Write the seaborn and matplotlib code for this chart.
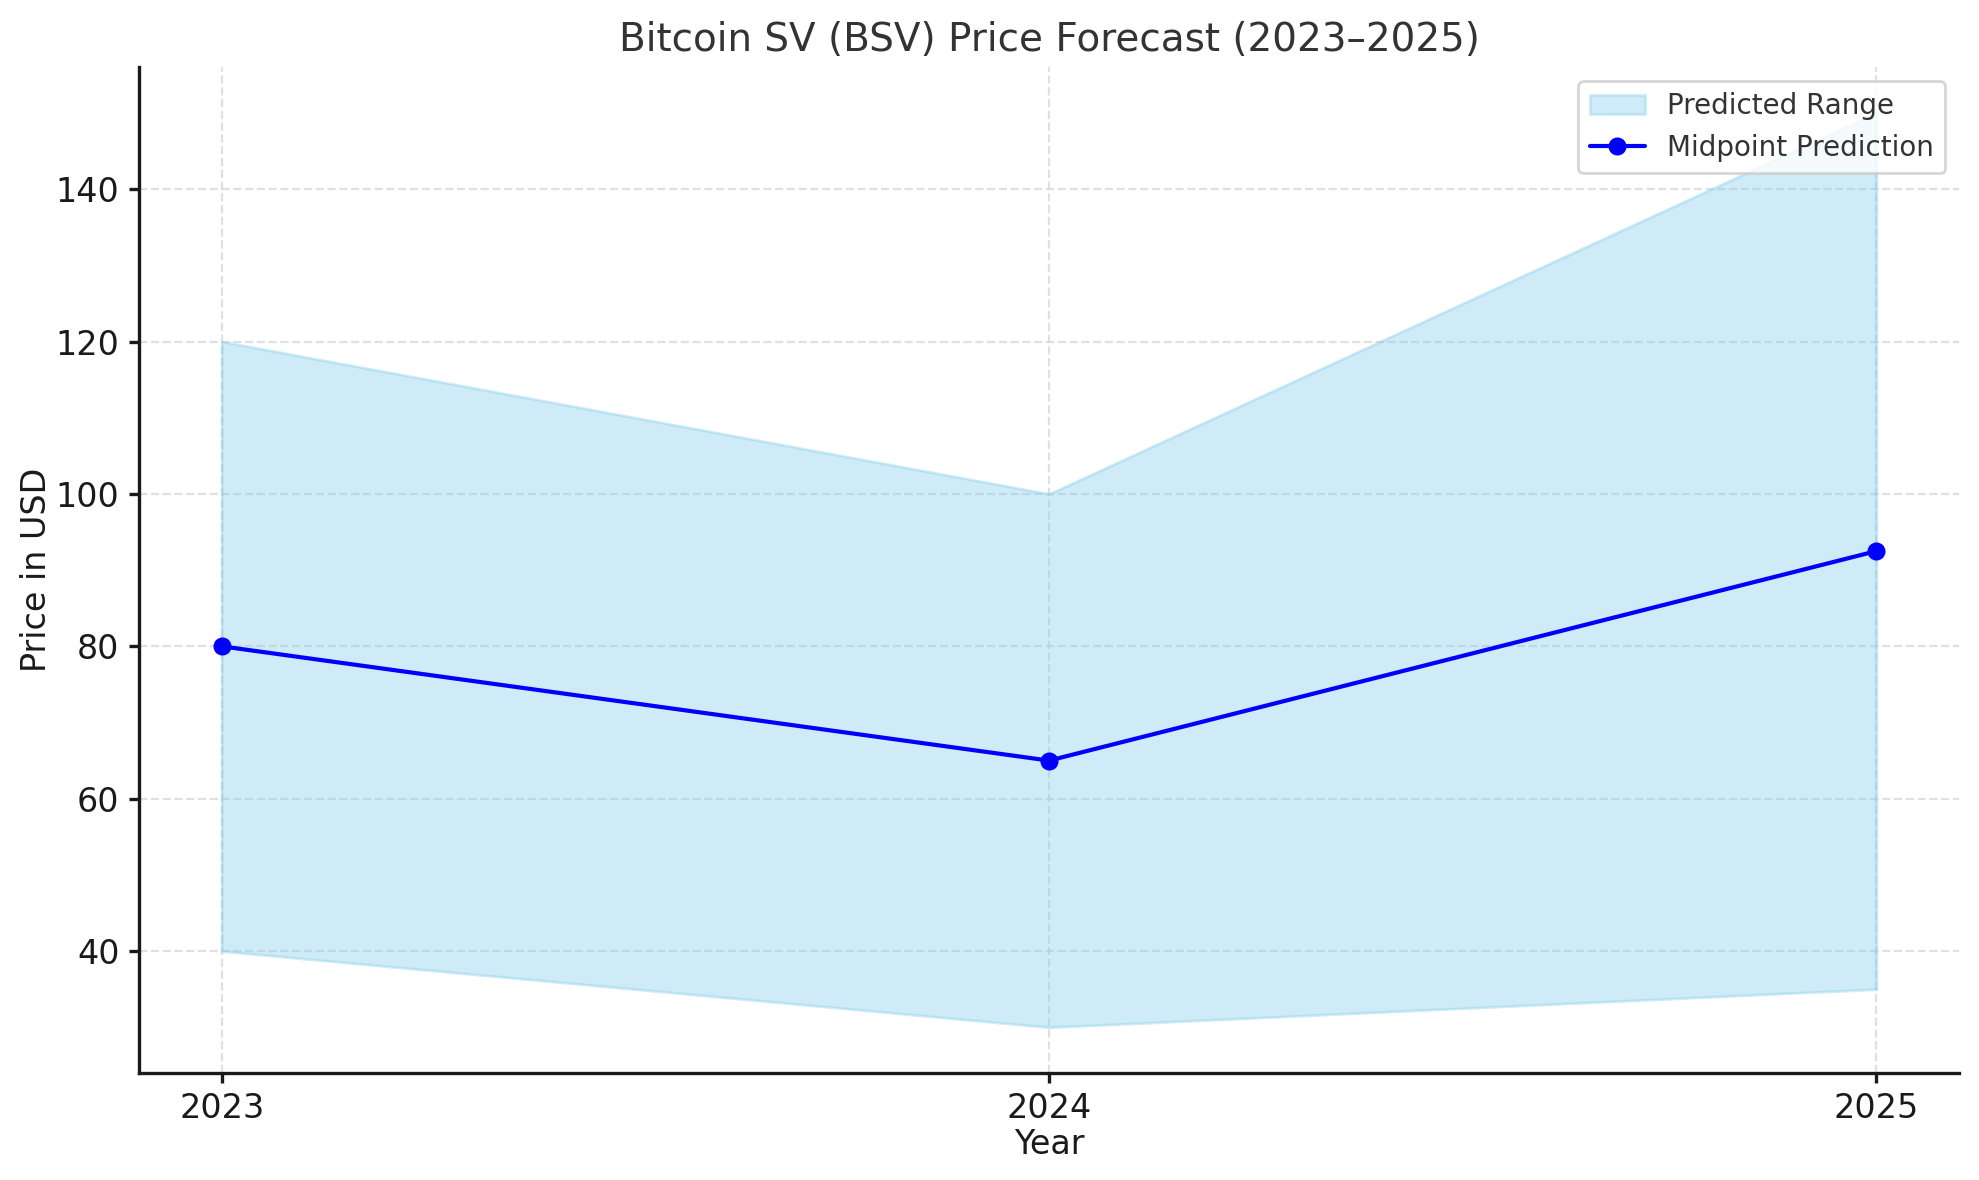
import pandas as pd
import seaborn as sns
from matplotlib import pyplot as plt

years = [2023, 2024, 2025]
low_price = [40, 30, 35]
high_price = [120, 100, 150]
mid_price = [80, 65, 92.5]

sns.set_style("ticks")
plt.rcParams["font.family"] = ["DejaVu Sans"]
plt.rcParams["text.color"] = "#333333"
plt.rcParams["axes.labelcolor"] = "#1a1a1a"

df = pd.DataFrame({"Year": years, "Low": low_price, "High": high_price, "Mid": mid_price})

fig, ax = plt.subplots(figsize=(9.895, 5.9), dpi=200)

ax.fill_between(df["Year"], df["Low"], df["High"], color="skyblue", alpha=0.4, label="Predicted Range")
sns.lineplot(data=df, x="Year", y="Mid", ax=ax, color="blue", marker="o", markersize=6.5,
             markeredgewidth=0, linewidth=1.5, label="Midpoint Prediction")

ax.set_xticks(years)
ax.set_xticklabels([str(y) for y in years])
ax.tick_params(labelsize=12, colors="#1a1a1a", width=1.2)
ax.set_title("Bitcoin SV (BSV) Price Forecast (2023\u20132025)", fontsize=14, color="#333333")
ax.set_xlabel("Year", fontsize=12, labelpad=1)
ax.set_ylabel("Price in USD", fontsize=12, labelpad=1)
ax.grid(True, linestyle="--", alpha=0.6)
sns.despine(ax=ax)
for side in ["left", "bottom"]:
    ax.spines[side].set_color("#1a1a1a")
    ax.spines[side].set_linewidth(1.2)
ax.legend(loc="upper right", fontsize=10)

plt.subplots_adjust(left=0.0702, right=0.990, top=0.943, bottom=0.0907)
plt.savefig("out.png", dpi=200)
